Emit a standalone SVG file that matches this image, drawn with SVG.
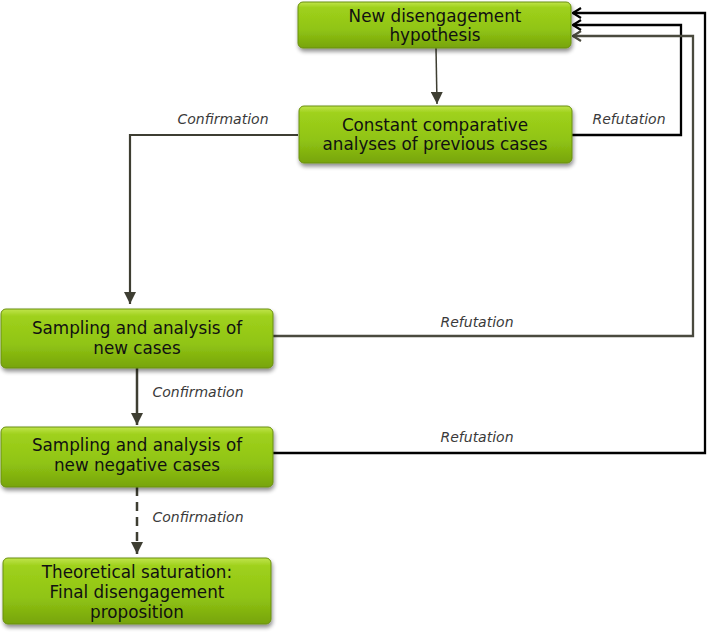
<svg xmlns="http://www.w3.org/2000/svg" width="707" height="635" viewBox="0 0 707 635">
<defs>
<linearGradient id="g" x1="0" y1="0" x2="0" y2="1">
<stop offset="0" stop-color="#c0e44c"/>
<stop offset="0.12" stop-color="#9fd11c"/>
<stop offset="0.6" stop-color="#90c414"/>
<stop offset="1" stop-color="#77a40c"/>
</linearGradient>
<filter id="sh" x="-5%" y="-10%" width="110%" height="135%">
<feGaussianBlur in="SourceAlpha" stdDeviation="2"/>
<feOffset dx="1" dy="3" result="b"/>
<feComponentTransfer><feFuncA type="linear" slope="0.45"/></feComponentTransfer>
<feMerge><feMergeNode/><feMergeNode in="SourceGraphic"/></feMerge>
</filter>
<marker id="tri" viewBox="0 0 10 10" refX="10" refY="5" markerWidth="12" markerHeight="12" markerUnits="userSpaceOnUse" orient="auto">
<path d="M0,0 L10,5 L0,10 Z" fill="#3e3e32"/>
</marker>
<marker id="chevK" viewBox="0 0 10 12" refX="9" refY="6" markerWidth="10" markerHeight="12" markerUnits="userSpaceOnUse" orient="auto">
<path d="M1,1 L9,6 L1,11" fill="none" stroke="#000" stroke-width="2.2"/>
</marker>
<marker id="chevG" viewBox="0 0 10 12" refX="9" refY="6" markerWidth="10" markerHeight="12" markerUnits="userSpaceOnUse" orient="auto">
<path d="M1,1 L9,6 L1,11" fill="none" stroke="#4a4a3e" stroke-width="2.2"/>
</marker>
</defs>
<style>
.box{fill:url(#g);stroke:#6a8f0e;stroke-width:1;filter:url(#sh)}
.t{font-family:"DejaVu Sans",Verdana,sans-serif;font-size:16.8px;fill:#111;text-anchor:middle}
.l{font-family:"DejaVu Sans",Verdana,sans-serif;font-size:14px;font-style:italic;fill:#3a3a3a;text-anchor:middle}
.c{fill:none;stroke:#3e3e32}
</style>
<g id="connectors">
<line class="c" x1="436" y1="48" x2="437" y2="104" stroke-width="1.5" marker-end="url(#tri)"/>
<polyline class="c" points="298,135 130,135 130,304" stroke-width="2.2" marker-end="url(#tri)"/>
<line class="c" x1="137" y1="368" x2="137" y2="425" stroke-width="2.5" marker-end="url(#tri)"/>
<line class="c" x1="137" y1="487" x2="137" y2="554" stroke-width="2.5" stroke-dasharray="9,6" marker-end="url(#tri)"/>
<polyline points="572,135 681,135 681,25 573,25" fill="none" stroke="#000" stroke-width="2.3" marker-end="url(#chevK)"/>
<polyline points="273,336 693,336 693,36 573,36" fill="none" stroke="#4a4a3e" stroke-width="2.3" marker-end="url(#chevG)"/>
<polyline points="273,453 705,453 705,13 573,13" fill="none" stroke="#000" stroke-width="2.3" marker-end="url(#chevK)"/>
<text class="l" x="223" y="124">Confirmation</text>
<text class="l" x="629" y="124">Refutation</text>
<text class="l" x="477" y="327">Refutation</text>
<text class="l" x="477" y="442">Refutation</text>
<text class="l" x="198" y="397">Confirmation</text>
<text class="l" x="198" y="522">Confirmation</text>
</g>
<g id="n1">
<rect class="box" x="298" y="2" width="273" height="46" rx="5"/>
<text class="t" x="435" y="22">New disengagement</text>
<text class="t" x="435" y="41">hypothesis</text>
</g>
<g id="n2">
<rect class="box" x="299" y="106" width="273" height="57" rx="5"/>
<text class="t" x="435" y="131">Constant comparative</text>
<text class="t" x="435" y="150">analyses of previous cases</text>
</g>
<g id="n3">
<rect class="box" x="1" y="309" width="272" height="59" rx="5"/>
<text class="t" x="137" y="334">Sampling and analysis of</text>
<text class="t" x="137" y="354">new cases</text>
</g>
<g id="n4">
<rect class="box" x="1" y="427" width="272" height="60" rx="5"/>
<text class="t" x="137" y="451">Sampling and analysis of</text>
<text class="t" x="137" y="471">new negative cases</text>
</g>
<g id="n5">
<rect class="box" x="3" y="558" width="268" height="66" rx="5"/>
<text class="t" x="137" y="578">Theoretical saturation:</text>
<text class="t" x="137" y="598">Final disengagement</text>
<text class="t" x="137" y="618">proposition</text>
</g>
</svg>
